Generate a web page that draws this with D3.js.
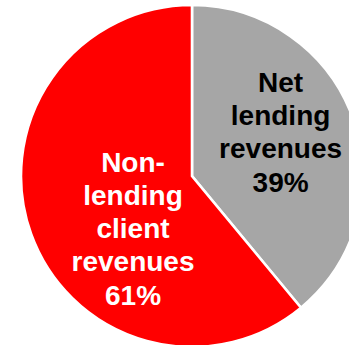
<!DOCTYPE html>
<html>
<head>
<meta charset="utf-8">
<script src="https://cdn.jsdelivr.net/npm/d3@7/dist/d3.min.js"></script>
<style>
  html, body { margin: 0; padding: 0; background: #fff; }
  svg { display: block; }
</style>
</head>
<body>
<script>
// Revenue split
const categories = ["Net lending revenues", "Non-lending client revenues"];
const labelLines = [["Net", "lending", "revenues"], ["Non-", "lending", "client", "revenues"]];
const values = [39, 61];
const colors = ["#a6a6a6", "#ff0000"];
const textColors = ["#000000", "#ffffff"];

const width = 349, height = 345;
const cx = 192, cy = 176, radius = 171;
const fontSize = 28, lineHeight = 33.2;

// label block anchors, as fractions of the radius from the centre (x of centre, y of first baseline)
const labelAnchor = [[0.518, -0.491], [-0.345, -0.025]];

const svg = d3.select("body").append("svg")
  .attr("width", width)
  .attr("height", height);

const g = svg.append("g").attr("transform", `translate(${cx},${cy})`);

const pie = d3.pie().sort(null).value(d => d.value);
const arc = d3.arc().innerRadius(0).outerRadius(radius);

const data = categories.map((c, i) => ({ name: c, value: values[i], i }));
const arcs = pie(data);

g.selectAll("path.slice")
  .data(arcs)
  .join("path")
  .attr("class", "slice")
  .attr("d", arc)
  .attr("fill", d => colors[d.data.i])
  .attr("stroke", "#ffffff")
  .attr("stroke-width", 2.6)
  .attr("stroke-linejoin", "miter");

const labels = g.selectAll("text.label")
  .data(arcs)
  .join("text")
  .attr("class", "label")
  .attr("text-anchor", "middle")
  .attr("font-family", "'Liberation Sans', Arial, Helvetica, sans-serif")
  .attr("font-weight", "bold")
  .attr("font-size", fontSize)
  .attr("fill", d => textColors[d.data.i])
  .attr("transform", d => {
    const a = labelAnchor[d.data.i];
    return `translate(${a[0] * radius},${a[1] * radius})`;
  });

labels.selectAll("tspan")
  .data(d => labelLines[d.data.i].concat([d.data.value + "%"]))
  .join("tspan")
  .attr("x", 0)
  .attr("y", (t, j) => j * lineHeight)
  .text(t => t);
</script>
</body>
</html>
